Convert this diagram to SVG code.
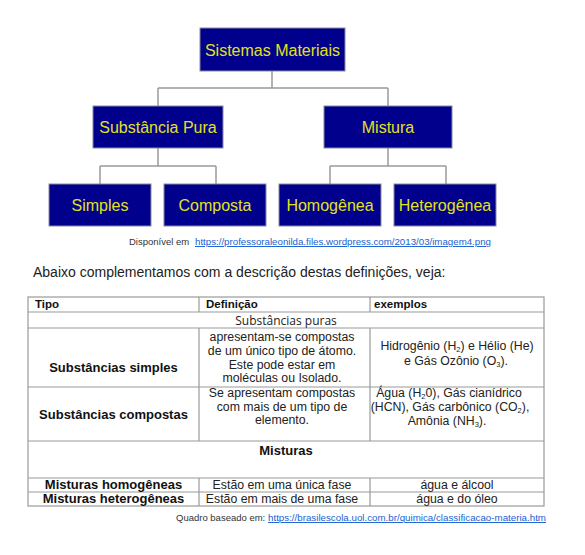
<svg xmlns="http://www.w3.org/2000/svg" width="585" height="555" viewBox="0 0 585 555">
<style>
.box{fill:#00008c;stroke:#8a8aa0;stroke-width:1}
.bt{font-family:"Liberation Sans",Arial,sans-serif;font-size:16px;fill:#e2e21c;text-anchor:middle}
.con{stroke:#9a9a9a;stroke-width:1.5;fill:none}
.grid{stroke:#9a9a9a;stroke-width:1.2;fill:none}
.t{font-family:"Liberation Sans",Arial,sans-serif;font-size:12.3px;fill:#222;text-anchor:middle}
.b{font-family:"Liberation Sans",Arial,sans-serif;font-size:13px;font-weight:bold;fill:#111;text-anchor:middle}
.h{font-family:"Liberation Sans",Arial,sans-serif;font-size:11.5px;font-weight:bold;fill:#111}
.sm{font-family:"Liberation Sans",Arial,sans-serif;font-size:9.5px;fill:#333}
.lk{font-family:"Liberation Sans",Arial,sans-serif;font-size:9.5px;fill:#1a5fd0;text-decoration:underline}
.sub{font-size:7.5px}
</style>
<rect width="585" height="555" fill="#ffffff"/>
<g id="connectors">
<path class="con" d="M272 71V88M158 88H388M158 88V106M388 88V106"/>
<path class="con" d="M158 148V166M100 166H216M100 166V184M216 166V184"/>
<path class="con" d="M388 148V166M330 166H446M330 166V184M446 166V184"/>
</g>
<g id="sistemas-materiais"><rect class="box" x="200" y="28" width="145" height="43"/><text class="bt" x="272.5" y="55.5">Sistemas Materiais</text></g>
<g id="substancia-pura"><rect class="box" x="93" y="106" width="130" height="42"/><text class="bt" x="158" y="133">Substância Pura</text></g>
<g id="mistura"><rect class="box" x="324" y="106" width="128" height="42"/><text class="bt" x="388" y="133">Mistura</text></g>
<g id="simples"><rect class="box" x="49" y="184" width="102" height="42"/><text class="bt" x="100" y="211">Simples</text></g>
<g id="composta"><rect class="box" x="164" y="184" width="102" height="42"/><text class="bt" x="215" y="211">Composta</text></g>
<g id="homogenea"><rect class="box" x="279" y="184" width="102" height="42"/><text class="bt" x="330" y="211">Homogênea</text></g>
<g id="heterogenea"><rect class="box" x="394" y="184" width="102" height="42"/><text class="bt" x="445" y="211">Heterogênea</text></g>
<g id="fonte1">
<text class="sm" x="129" y="245">Disponível em</text>
<text class="lk" x="195" y="245" textLength="296" lengthAdjust="spacingAndGlyphs">https://professoraleonilda.files.wordpress.com/2013/03/imagem4.png</text>
</g>
<text x="33" y="277" font-family="Liberation Sans, Arial, sans-serif" font-size="14" fill="#222">Abaixo complementamos com a descrição destas definições, veja:</text>
<g id="tabela">
<rect class="grid" x="28" y="297" width="516" height="209"/>
<path class="grid" d="M28 312H544M28 328H544M28 387H544M28 441H544M28 478H544M28 492H544"/>
<path class="grid" d="M199 297V312M370 297V312M199 328V441M370 328V441M199 478V506M370 478V506"/>
<text class="h" x="35" y="308">Tipo</text>
<text class="h" x="206" y="308">Definição</text>
<text class="h" x="374" y="308">exemplos</text>
<text x="286" y="325" font-family="Open Sans, Noto Sans, sans-serif" font-size="12" fill="#222" text-anchor="middle">Substâncias puras</text>
<text class="b" x="113.5" y="372">Substâncias simples</text>
<text class="t" x="282" y="341">apresentam-se compostas</text>
<text class="t" x="282" y="355">de um único tipo de átomo.</text>
<text class="t" x="282" y="369">Este pode estar em</text>
<text class="t" x="282" y="382">moléculas ou Isolado.</text>
<text class="t" x="457" y="349.5">Hidrogênio (H<tspan class="sub" dy="2">2</tspan><tspan dy="-2">) e Hélio (He)</tspan></text>
<text class="t" x="456" y="364.5">e Gás Ozônio (O<tspan class="sub" dy="2">3</tspan><tspan dy="-2">).</tspan></text>
<text class="b" x="113.5" y="419">Substâncias compostas</text>
<text class="t" x="282" y="397">Se apresentam compostas</text>
<text class="t" x="282" y="411">com mais de um tipo de</text>
<text class="t" x="282" y="424">elemento.</text>
<text class="t" x="449" y="397">Água (H<tspan class="sub" dy="2">2</tspan><tspan dy="-2">0), Gás cianídrico</tspan></text>
<text class="t" x="450" y="411">(HCN), Gás carbônico (CO<tspan class="sub" dy="2">2</tspan><tspan dy="-2">),</tspan></text>
<text class="t" x="447" y="425">Amônia (NH<tspan class="sub" dy="2">3</tspan><tspan dy="-2">).</tspan></text>
<text class="b" x="286" y="455" font-size="12">Misturas</text>
<text class="b" x="113.5" y="489">Misturas homogêneas</text>
<text class="t" x="282" y="489">Estão em uma única fase</text>
<text class="t" x="457" y="489">água e álcool</text>
<text class="b" x="113.5" y="503">Misturas heterogêneas</text>
<text class="t" x="282" y="503">Estão em mais de uma fase</text>
<text class="t" x="457" y="503">água e do óleo</text>
</g>
<g id="fonte2">
<text class="sm" x="176" y="521">Quadro baseado em:</text>
<text class="lk" x="268" y="521" textLength="278" lengthAdjust="spacingAndGlyphs">https://brasilescola.uol.com.br/quimica/classificacao-materia.htm</text>
</g>
</svg>
